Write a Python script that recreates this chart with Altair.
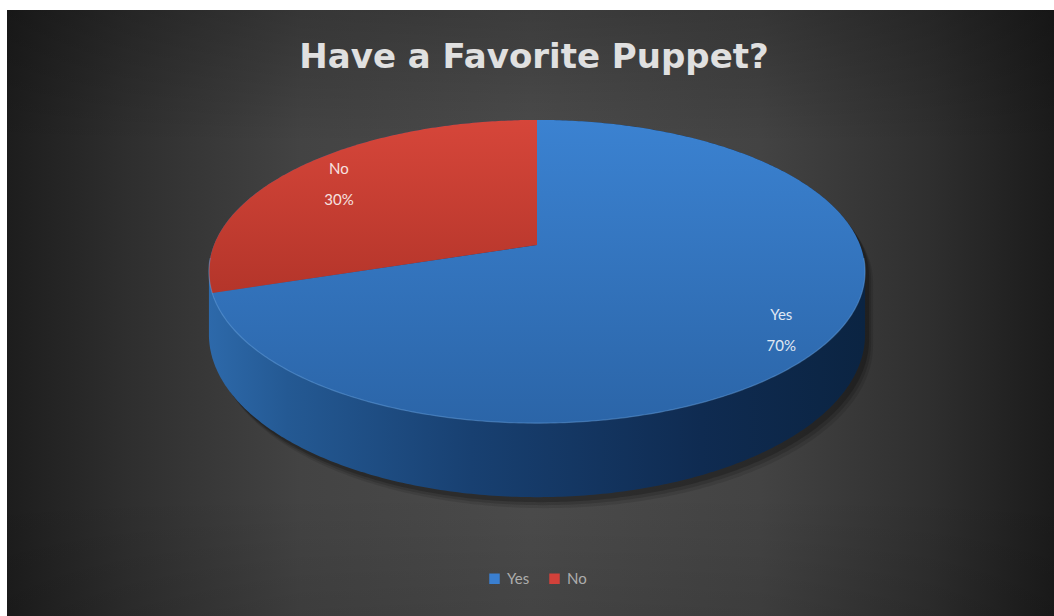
import altair as alt
import numpy as np
import pandas as pd

# ---------------- data ----------------
categories = ["Yes", "No"]
shares = [70, 30]
title_text = "Have a Favorite Puppet?"
legend_colors = ["#3a7fd0", "#d2413a"]

# ---------------- layout (image pixel space) ----------------
IMG_X0, IMG_X1 = 7, 1054
IMG_Y0, IMG_Y1 = 10, 616
W, H = IMG_X1 - IMG_X0, IMG_Y1 - IMG_Y0

CX, CY = 537.0, 245.0     # centre of the top face
S0 = 323.0                # scale at the centre depth
SIN_T = 0.455             # tilt
U = 0.175                 # perspective strength
HC = 0.189                # wall height (projected factor)


def proj(X, Z, depth=0.0):
    s = S0 / (1 - Z * U)
    return CX + s * X, CY + s * (Z * SIN_T + depth * HC)


def arc(a0, a1, r=1.0, depth=0.0):
    n = max(int(abs(a1 - a0) * 1.5), 2)
    th = np.radians(np.linspace(a0, a1, n))
    X = r * np.sin(th)
    Z = -r * np.cos(th)
    return proj(X, Z, depth)


def hull(px, py):
    pts = sorted(set(zip(np.round(px, 3), np.round(py, 3))))

    def cross(o, a, b):
        return (a[0] - o[0]) * (b[1] - o[1]) - (a[1] - o[1]) * (b[0] - o[0])

    lower, upper = [], []
    for p in pts:
        while len(lower) >= 2 and cross(lower[-2], lower[-1], p) <= 0:
            lower.pop()
        lower.append(p)
    for p in reversed(pts):
        while len(upper) >= 2 and cross(upper[-2], upper[-1], p) <= 0:
            upper.pop()
        upper.append(p)
    h = lower[:-1] + upper[:-1]
    return [p[0] for p in h], [p[1] for p in h]


xs = alt.Scale(domain=[IMG_X0, IMG_X1], nice=False, zero=False)
ys = alt.Scale(domain=[IMG_Y1, IMG_Y0], nice=False, zero=False)


def enc_xy(chart, xf="x", yf="y"):
    return chart.encode(
        x=alt.X(f"{xf}:Q", scale=xs, axis=None),
        y=alt.Y(f"{yf}:Q", scale=ys, axis=None),
    )


def poly(px, py, fill, opacity=1.0):
    df = pd.DataFrame({"x": list(px), "y": list(py)})
    df["i"] = range(len(df))
    c = alt.Chart(df).mark_line(fill=fill, strokeWidth=0, strokeOpacity=0,
                                fillOpacity=opacity, interpolate="linear")
    return enc_xy(c).encode(order="i:Q")


def lin(stops, x1=0, y1=0, x2=0, y2=1):
    return alt.LinearGradient(
        gradient="linear",
        stops=[alt.GradientStop(color=c, offset=o) for o, c in stops],
        x1=x1, y1=y1, x2=x2, y2=y2,
    )


# ---------------- background ----------------
bg_df = pd.DataFrame({"a": [0]})
bg_h = alt.Chart(bg_df).mark_rect(
    fill=lin([(0, "#1d1d1d"), (0.12, "#2f2f2f"), (0.28, "#434343"), (0.5, "#4b4b4b"),
              (0.72, "#434343"), (0.88, "#2f2f2f"), (1, "#1b1b1b")], x2=1, y2=0)
).encode(x=alt.value(0), x2=alt.value(W), y=alt.value(0), y2=alt.value(H))
bg_v = alt.Chart(bg_df).mark_rect(
    fill=lin([(0, "rgba(0,0,0,0.2)"), (0.22, "rgba(0,0,0,0)"),
              (0.8, "rgba(0,0,0,0)"), (1, "rgba(0,0,0,0.1)")])
).encode(x=alt.value(0), x2=alt.value(W), y=alt.value(0), y2=alt.value(H))

# ---------------- pie geometry from the shares ----------------
total = float(sum(shares))
bounds = np.concatenate([[0], np.cumsum(shares) / total * 360.0])

layers = [bg_h, bg_v]

# soft shadow under the disc (down and to the right)
for dx, dy, op in [(8, 11, 0.10), (6, 8, 0.14), (4, 5, 0.2)]:
    tx, ty = arc(0, 360, depth=0.0)
    bx, by = arc(0, 360, depth=1.0)
    sx, sy = hull(np.concatenate([tx, bx]), np.concatenate([ty, by]))
    layers.append(poly(np.array(sx) + dx, np.array(sy) + dy, "black", op))

# side wall (silhouette of the cylinder)
tx, ty = arc(0, 360, depth=0.0)
bx, by = arc(0, 360, depth=1.0)
hx, hy = hull(np.concatenate([tx, bx]), np.concatenate([ty, by]))
wall_grad = lin([(0, "#2d69aa"), (0.12, "#245993"), (0.4, "#184071"),
                 (0.75, "#0f2b51"), (1, "#0b2442")], x2=1, y2=0)
layers.append(poly(hx, hy, wall_grad))

top_grads = {
    "Yes": lin([(0, "#3b82d1"), (1, "#2b65a8")]),
    "No": lin([(0, "#d6463a"), (1, "#b4352a")]),
}

for cat, a0, a1 in zip(categories, bounds[:-1], bounds[1:]):
    ax, ay = arc(a0, a1)
    px = np.concatenate([[CX], ax])
    py = np.concatenate([[CY], ay])
    layers.append(poly(px, py, top_grads[cat]))

# subtle light rim on the near edge of the top face
rx, ry = arc(95, 265)
rim_df = pd.DataFrame({"x": rx, "y": ry})
rim_df["i"] = range(len(rim_df))
layers.append(enc_xy(alt.Chart(rim_df).mark_line(
    color="#6aa3e0", strokeWidth=1.2, opacity=0.45)).encode(order="i:Q"))

# ---------------- slice labels ----------------
lab_rows = []
for cat, v, a0, a1 in zip(categories, shares, bounds[:-1], bounds[1:]):
    mid = np.radians((a0 + a1) / 2)
    lx, ly = proj(0.84 * np.sin(mid), -0.84 * np.cos(mid))
    lab_rows.append({"cat": cat, "pct": f"{v / total:.0%}", "lx": lx, "ly": ly})
lab_df = pd.DataFrame(lab_rows)

lab_base = alt.Chart(lab_df)
lab_name = enc_xy(lab_base.mark_text(font="Lato", fontSize=15, color="white",
                                     opacity=0.85, dy=-9, dx=4), "lx", "ly").encode(text="cat:N")
lab_pct = enc_xy(lab_base.mark_text(font="Lato", fontSize=15, color="white",
                                    opacity=0.85, dy=22, dx=4), "lx", "ly").encode(text="pct:N")
layers += [lab_name, lab_pct]

# ---------------- title ----------------
title = alt.Chart(pd.DataFrame({"t": [title_text]})).mark_text(
    font="DejaVu Sans", fontWeight="bold", fontSize=34, color="#e0e0e0",
    align="center", baseline="alphabetic"
).encode(x=alt.value(534 - IMG_X0), y=alt.value(68 - IMG_Y0), text="t:N")
layers.append(title)

# ---------------- legend ----------------
leg_df = pd.DataFrame({"cat": categories, "x": [CX] * 2, "y": [CY] * 2})
leg = enc_xy(alt.Chart(leg_df).mark_square(opacity=0, size=1)).encode(
    color=alt.Color("cat:N", scale=alt.Scale(domain=categories, range=legend_colors),
                    legend=alt.Legend(
                        orient="none", legendX=480, legendY=561, direction="horizontal",
                        title=None, symbolType="square", symbolSize=110,
                        symbolOpacity=1, symbolStrokeWidth=0,
                        labelColor="#adadad", labelFont="Lato", labelFontSize=15,
                        labelOffset=5, columnPadding=17, padding=0))
)
layers.append(leg)

chart = alt.layer(*layers).properties(
    width=W, height=H,
    padding={"left": IMG_X0, "top": IMG_Y0, "right": 0, "bottom": 0},
    autosize=alt.AutoSizeParams(type="none"),
    background="white",
).configure_view(stroke=None)

chart.save("out.html", embed_options={"renderer": "svg", "actions": False})
